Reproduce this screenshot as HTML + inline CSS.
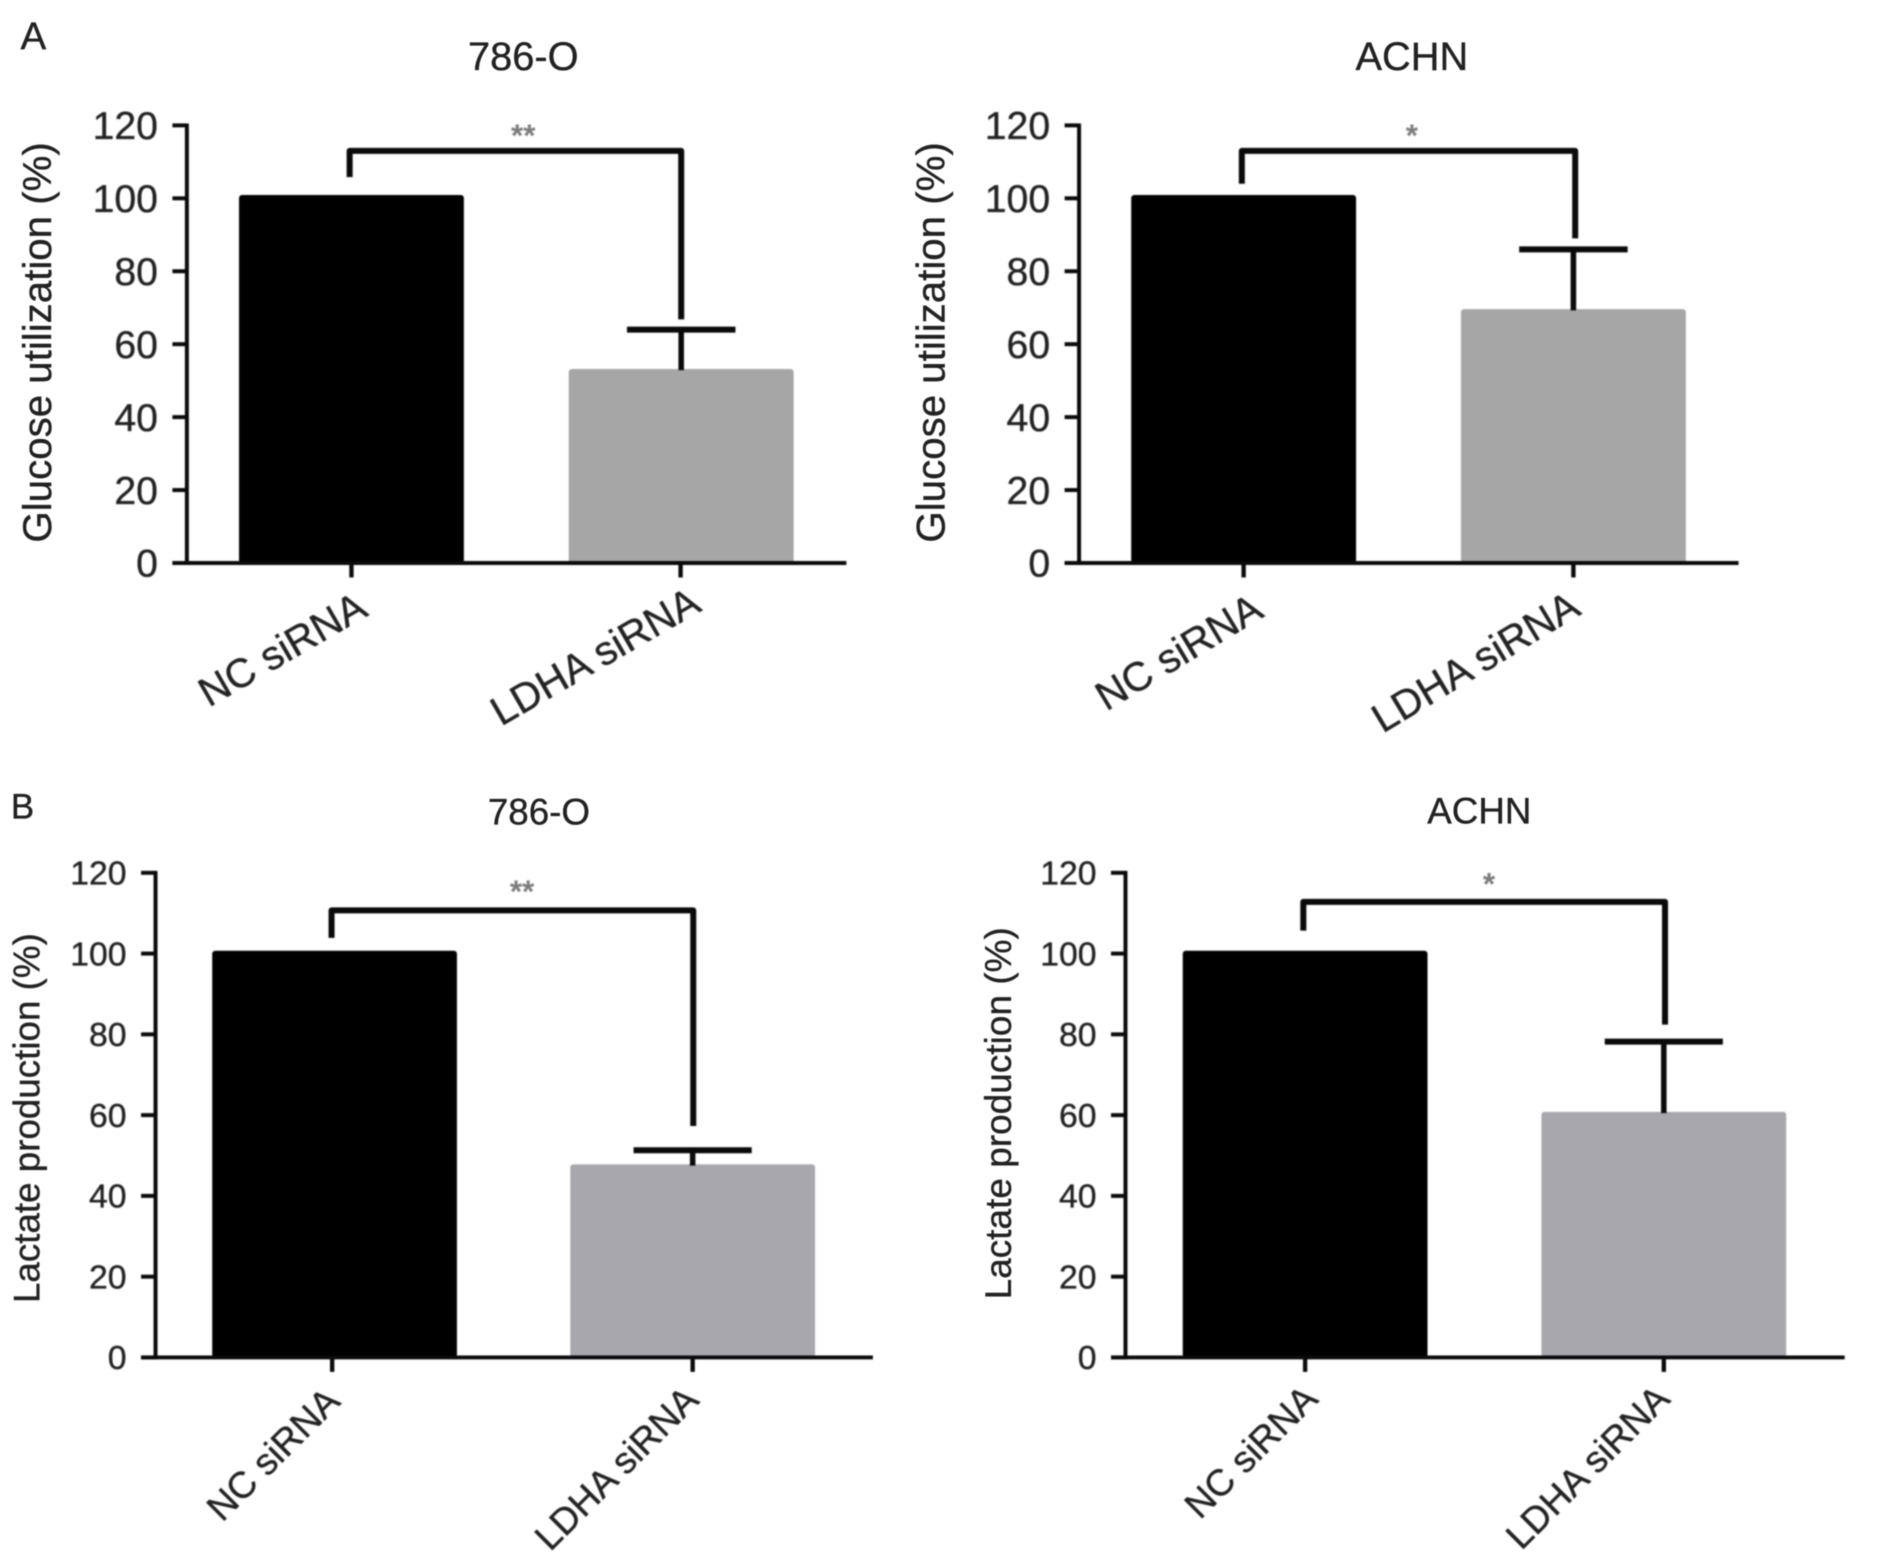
<!DOCTYPE html>
<html lang="en">
<head>
<meta charset="utf-8">
<title>Glucose utilization and lactate production</title>
<style>
html,body{margin:0;padding:0;background:#fff;}
#figure{display:block;width:1890px;height:1566px;}
text{font-family:"Liberation Sans",Arial,sans-serif;fill:#222222;stroke:#222222;stroke-width:0.3px;}
</style>
</head>
<body>
<svg id="figure" xmlns="http://www.w3.org/2000/svg" width="1890" height="1566" viewBox="0 0 1567.6 1299" preserveAspectRatio="none">
  <rect x="0" y="0" width="1567.6" height="1299" fill="#ffffff"/>
  <g id="marks" style="filter:blur(0.6px)"></g>
  <g style="filter:blur(0.5px)">
    <text x="17" y="41" font-size="32">A</text>
    <text x="9" y="679" font-size="29">B</text>
    <text x="434" y="58" font-size="33" text-anchor="middle">786-O</text>
    <text x="1171" y="58" font-size="33" text-anchor="middle">ACHN</text>
    <text x="447" y="684" font-size="30.5" text-anchor="middle">786-O</text>
    <text x="1227" y="683" font-size="30.5" text-anchor="middle">ACHN</text>
    <text transform="translate(42.5 284) rotate(-90)" font-size="33.4" text-anchor="middle">Glucose utilization (%)</text>
    <text transform="translate(783.5 284) rotate(-90)" font-size="33.4" text-anchor="middle">Glucose utilization (%)</text>
    <text transform="translate(32.5 927.5) rotate(-90)" font-size="30.5" text-anchor="middle">Lactate production (%)</text>
    <text transform="translate(838.5 923.5) rotate(-90)" font-size="30.7" text-anchor="middle">Lactate production (%)</text>
  </g>
</svg>
<script>
const categories = ['NC siRNA', 'LDHA siRNA'];
const yTickValues = [0, 20, 40, 60, 80, 100, 120];

const glucose786Values = [100.9, 53.2];
const glucose786Errors = [0, 10.8];
const glucose786Bracket = [113, 105.8, 66.8];
const glucose786Stars = '**';

const glucoseAchnValues = [100.9, 69.6];
const glucoseAchnErrors = [0, 16.4];
const glucoseAchnBracket = [113, 104, 89];
const glucoseAchnStars = '*';

const lactate786Values = [100.7, 47.8];
const lactate786Errors = [0, 3.5];
const lactate786Bracket = [110.7, 103.9, 57.3];
const lactate786Stars = '**';

const lactateAchnValues = [100.7, 60.8];
const lactateAchnErrors = [0, 17.4];
const lactateAchnBracket = [112.8, 105.7, 82.4];
const lactateAchnStars = '*';

const SVGNS = 'http://www.w3.org/2000/svg';
const marks = document.getElementById('marks');

function make(tag, parent, attrs) {
  const el = document.createElementNS(SVGNS, tag);
  for (const k in attrs) el.setAttribute(k, attrs[k]);
  parent.appendChild(el);
  return el;
}

function drawPanel(id, p, values, errors, bracket, stars) {
  const group = make('g', marks, {});
  
  

  const yScale = function (v) { return p.y0 + (p.y120 - p.y0) * v / 120; };
  const xScale = function (i) { return p.cx0 + (p.cx1 - p.cx0) * i; };
  const ink = '#0a0a0a';

  values.forEach(function (v, i) {
    const bar = make('rect', group, {
      x: xScale(i) - p.barW / 2,
      y: yScale(v),
      width: p.barW,
      height: p.y0 - yScale(v),
      rx: 2.5,
      fill: i === 0 ? '#000000' : p.grey
    });
    
    

    if (errors[i] > 0) {
      const top = yScale(v + errors[i]);
      const stem = make('line', group, {
        x1: xScale(i), x2: xScale(i), y1: yScale(v) + 1, y2: top,
        stroke: ink, 'stroke-width': 4.6
      });
      
      
      const cap = make('line', group, {
        x1: xScale(i) - p.capW / 2, x2: xScale(i) + p.capW / 2, y1: top, y2: top,
        stroke: ink, 'stroke-width': 5
      });
      
      
    }
  });

  const yAxis = make('line', group, {
    x1: p.axisX, x2: p.axisX, y1: yScale(120) - 1.6, y2: p.y0 + 1.6,
    stroke: ink, 'stroke-width': 3.3
  });
  
  

  const xAxis = make('line', group, {
    x1: p.axisX - 12, x2: p.xEnd, y1: p.y0, y2: p.y0,
    stroke: ink, 'stroke-width': 3.3
  });
  
  

  yTickValues.forEach(function (t) {
    const tick = make('line', group, {
      x1: p.axisX - 12, x2: p.axisX, y1: yScale(t), y2: yScale(t),
      stroke: ink, 'stroke-width': 3.3
    });
    
    
    const label = make('text', group, {
      x: p.axisX - 24, y: yScale(t) + p.tickFont * 0.35,
      'font-size': p.tickFont, 'text-anchor': 'end'
    });
    
    
    label.textContent = String(t);
  });

  categories.forEach(function (c, i) {
    const tick = make('line', group, {
      x1: xScale(i) + p.tickShift[i], x2: xScale(i) + p.tickShift[i], y1: p.y0, y2: p.y0 + 12,
      stroke: ink, 'stroke-width': 3.6
    });
    
    
    const lx = xScale(i) + p.labelDx[i];
    const ly = p.y0 + p.labelDy[i];
    const label = make('text', group, {
      transform: 'translate(' + lx + ' ' + ly + ') rotate(' + p.labelAngle + ')',
      'font-size': p.labelFont, 'text-anchor': 'end'
    });
    
    
    label.textContent = c;
  });

  const lineY = yScale(bracket[0]);
  const bx0 = xScale(0) + p.brShift0;
  const bx1 = xScale(1) + p.brShift1;
  const br = make('path', group, {
    d: 'M' + bx0 + ' ' + yScale(bracket[1]) + ' L' + bx0 + ' ' + lineY + ' L' + bx1 + ' ' + lineY + ' L' + bx1 + ' ' + yScale(bracket[2]),
    fill: 'none', stroke: ink, 'stroke-width': 5, 'stroke-linejoin': 'round'
  });
  
  

  const star = make('text', group, {
    x: p.starX, y: lineY - p.starDy, 'font-size': 26, 'text-anchor': 'middle', 'font-weight': 'bold'
  });
  star.style.fill = '#7c7c7c';
  star.style.stroke = 'none';
  
  
  star.textContent = stars;
}

drawPanel('a-left',
  {axisX: 155, xEnd: 702, y0: 467, y120: 104, cx0: 291.5, cx1: 565, barW: 186.5, capW: 90, grey: '#a6a6a6', tickShift: [0, -0.5],
   tickFont: 32.5, labelFont: 33.8, labelAngle: -30, labelDx: [15, 18], labelDy: [43, 39], brShift0: -1.5, brShift1: 0, starX: 434, starDy: 4},
  glucose786Values, glucose786Errors, glucose786Bracket, glucose786Stars);

drawPanel('a-right',
  {axisX: 895, xEnd: 1442, y0: 467, y120: 104, cx0: 1031.5, cx1: 1305, barW: 186.5, capW: 90, grey: '#a6a6a6', tickShift: [0, 0],
   tickFont: 32.5, labelFont: 33.8, labelAngle: -31, labelDx: [18, 7.5], labelDy: [44, 42], brShift0: -1.5, brShift1: 1.5, starX: 1171, starDy: 4},
  glucoseAchnValues, glucoseAchnErrors, glucoseAchnBracket, glucoseAchnStars);

drawPanel('b-left',
  {axisX: 129, xEnd: 724, y0: 1126, y120: 724, cx0: 277.5, cx1: 574.5, barW: 203, capW: 98, grey: '#a7a7ad', tickShift: [-2, 0],
   tickFont: 28, labelFont: 30.8, labelAngle: -45, labelDx: [6, 6.5], labelDy: [38, 37], brShift0: -2.5, brShift1: 0.5, starX: 433, starDy: 7},
  lactate786Values, lactate786Errors, lactate786Bracket, lactate786Stars);

drawPanel('b-right',
  {axisX: 933.5, xEnd: 1530, y0: 1126, y120: 724, cx0: 1082.5, cx1: 1380, barW: 203, capW: 98, grey: '#a7a7ad', tickShift: [0, 0],
   tickFont: 28, labelFont: 30.8, labelAngle: -45, labelDx: [12, 6.5], labelDy: [36, 36], brShift0: -1.5, brShift1: 1, starX: 1235, starDy: 6},
  lactateAchnValues, lactateAchnErrors, lactateAchnBracket, lactateAchnStars);
</script>
</body>
</html>
